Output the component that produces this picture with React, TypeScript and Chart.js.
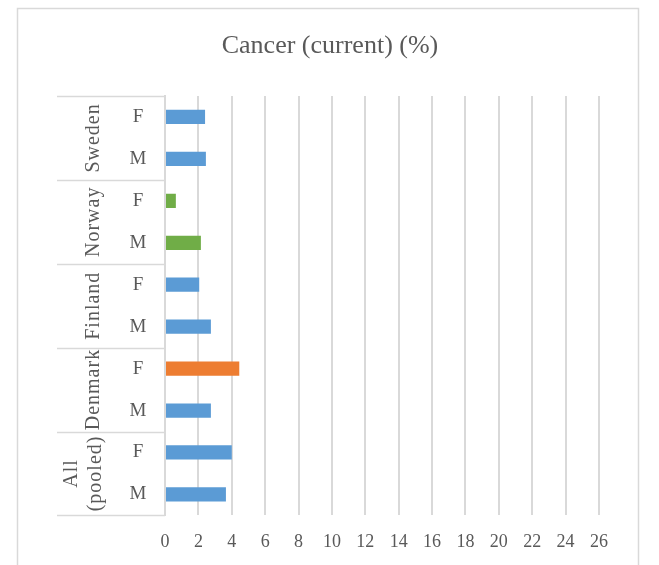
import React, { useEffect, useRef } from "react";
import { Chart, registerables } from "chart.js";

Chart.register(...registerables);

// Categories listed bottom-to-top (Excel order)
const sexLabels = ["M", "F", "M", "F", "M", "F", "M", "F", "M", "F"];
const countryLabels = [["All", "(pooled)"], ["Denmark"], ["Finland"], ["Norway"], ["Sweden"]];
const cancerValues = [3.65, 4.0, 2.75, 4.45, 2.75, 2.05, 2.15, 0.65, 2.45, 2.4];
const barColors = [
  "#5B9BD5", "#5B9BD5",
  "#5B9BD5", "#ED7D31",
  "#5B9BD5", "#5B9BD5",
  "#70AD47", "#70AD47",
  "#5B9BD5", "#5B9BD5",
];
const xMin = 0;
const xMax = 26;
const xStep = 2;
const titleText = "Cancer (current) (%)";

const SERIF = '"Liberation Serif", "Times New Roman", serif';
const TEXT = "#595959";
const LINE = "#d9d9d9";

const framePlugin = {
  id: "frame",
  beforeDraw(chart: any) {
    const ctx = chart.ctx;
    ctx.save();
    ctx.fillStyle = "#ffffff";
    ctx.fillRect(0, 0, chart.width, chart.height);
    ctx.strokeStyle = LINE;
    ctx.lineWidth = 1.5;
    ctx.strokeRect(17.5, 8.5, 621, 600);
    ctx.restore();
  },
  afterDraw(chart: any) {
    const ctx = chart.ctx;
    const y = chart.scales.y;
    const area = chart.chartArea;
    ctx.save();
    // title
    ctx.fillStyle = TEXT;
    ctx.font = `26px ${SERIF}`;
    ctx.textAlign = "center";
    ctx.textBaseline = "middle";
    ctx.fillText(titleText, 330, 46);
    // group boundary lines
    ctx.strokeStyle = LINE;
    ctx.lineWidth = 1.5;
    for (let g = 0; g <= countryLabels.length; g++) {
      const py = Math.round(y.getPixelForValue(2 * g - 0.5)) + 0.5;
      ctx.beginPath();
      ctx.moveTo(57, py);
      ctx.lineTo(area.left, py);
      ctx.stroke();
    }
    // sex labels
    ctx.font = `19px ${SERIF}`;
    sexLabels.forEach((s, i) => {
      ctx.fillText(s, 138, y.getPixelForValue(i));
    });
    // country labels (rotated)
    ctx.font = `20px ${SERIF}`;
    (ctx as any).letterSpacing = "1px";
    countryLabels.forEach((lines, g) => {
      const cy = y.getPixelForValue(2 * g + 0.5);
      const cx = 94 - (lines.length - 1) * 10;
      ctx.save();
      ctx.translate(cx, cy);
      ctx.rotate(-Math.PI / 2);
      lines.forEach((ln, k) => {
        const off = (k - (lines.length - 1) / 2) * 24;
        ctx.fillText(ln, 0, off);
      });
      ctx.restore();
    });
    ctx.restore();
  },
};

export default function App() {
  const ref = useRef<HTMLCanvasElement | null>(null);
  useEffect(() => {
    if (!ref.current) return;
    const chart = new Chart(ref.current, {
      type: "bar",
      data: {
        labels: sexLabels,
        datasets: [
          {
            data: cancerValues,
            backgroundColor: barColors,
            borderWidth: 0,
            categoryPercentage: 1,
            barPercentage: 0.34,
          },
        ],
      },
      options: {
        indexAxis: "y",
        responsive: false,
        animation: false,
        devicePixelRatio: 1,
        layout: { padding: { left: 165, right: 60, top: 96, bottom: -4 } },
        plugins: {
          legend: { display: false },
          tooltip: { enabled: false },
          title: { display: false },
        },
        scales: {
          x: {
            min: xMin,
            max: xMax,
            ticks: {
              stepSize: xStep,
              color: TEXT,
              font: { family: SERIF, size: 18 },
              padding: 16,
            },
            grid: { color: LINE, lineWidth: 2, drawTicks: false },
            border: { display: false },
          },
          y: {
            reverse: true,
            ticks: { display: false },
            grid: { display: false, drawTicks: false },
            border: { display: true, color: LINE, width: 2 },
          },
        },
      },
      plugins: [framePlugin],
    } as any);
    return () => chart.destroy();
  }, []);
  return (
    <div style={{ position: "fixed", left: 0, top: 0, width: 659, height: 565 }}>
      <canvas ref={ref} width={659} height={565} />
    </div>
  );
}
